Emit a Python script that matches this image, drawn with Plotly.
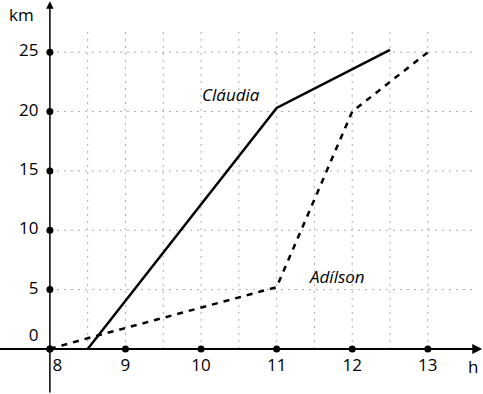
import plotly.graph_objects as go

# Data
claudia_h = [8.5, 11, 12.5]
claudia_km = [0, 20.3, 25.2]
adilson_h = [8, 8.5, 11, 12, 13]
adilson_km = [0, 0.9, 5.2, 20, 25]

x_ticks = [8, 9, 10, 11, 12, 13]
y_ticks = [0, 5, 10, 15, 20, 25]
x_grid = [8.5, 9, 9.5, 10, 10.5, 11, 11.5, 12, 12.5, 13]
y_grid = [5, 10, 15, 20, 25]

fig = go.Figure()

# dotted grid
gx, gy = [], []
for v in x_grid:
    gx += [v, v, None]
    gy += [0, 27, None]
for v in y_grid:
    gx += [8, 13.6, None]
    gy += [v, v, None]
fig.add_trace(go.Scatter(x=gx, y=gy, mode="lines",
                         line=dict(color="#aaa", width=1, dash="2px,5px"),
                         hoverinfo="skip", showlegend=False))

# axes with arrows
fig.add_annotation(x=13.72, y=0, ax=7.3, ay=0, xref="x", yref="y", axref="x", ayref="y",
                   showarrow=True, arrowhead=2, arrowsize=1, arrowwidth=2, arrowcolor="black", text="")
fig.add_annotation(x=8, y=29.3, ax=8, ay=-3.8, xref="x", yref="y", axref="x", ayref="y",
                   showarrow=True, arrowhead=2, arrowsize=1, arrowwidth=1.5, arrowcolor="black", text="")

# lines
fig.add_trace(go.Scatter(x=claudia_h, y=claudia_km, mode="lines",
                         line=dict(color="black", width=2.5), showlegend=False))
fig.add_trace(go.Scatter(x=adilson_h, y=adilson_km, mode="lines",
                         line=dict(color="black", width=2.5, dash="6px,6px"), showlegend=False))

# tick dots
fig.add_trace(go.Scatter(x=x_ticks, y=[0] * len(x_ticks), mode="markers",
                         marker=dict(color="black", size=7), showlegend=False))
fig.add_trace(go.Scatter(x=[8] * len(y_ticks), y=y_ticks, mode="markers",
                         marker=dict(color="black", size=7), showlegend=False))

font = dict(family="Open Sans", size=17, color="black")

# tick labels
fig.add_trace(go.Scatter(x=[t + 0.1 if t == 8 else t for t in x_ticks], y=[-1.5] * len(x_ticks),
                         mode="text", text=[str(t) for t in x_ticks], textfont=font,
                         showlegend=False))
fig.add_trace(go.Scatter(x=[7.85] * len(y_ticks), y=[t + 1.0 if t == 0 else t for t in y_ticks],
                         mode="text", text=[str(t) for t in y_ticks], textfont=font,
                         textposition="middle left", showlegend=False))

fig.add_annotation(x=7.62, y=28.2, text="km", showarrow=False, font=font, xref="x", yref="y")
fig.add_annotation(x=13.6, y=-1.5, text="h", showarrow=False, font=font, xref="x", yref="y")
fig.add_annotation(x=10.4, y=21.4, text="<i>Cláudia</i>", showarrow=False, font=font)
fig.add_annotation(x=11.8, y=6.1, text="<i>Adílson</i>", showarrow=False, font=font)

fig.update_layout(
    width=483, height=394,
    margin=dict(l=0, r=0, t=0, b=0),
    plot_bgcolor="white", paper_bgcolor="white",
    xaxis=dict(range=[7.34, 13.73], showgrid=False, zeroline=False, showticklabels=False),
    yaxis=dict(range=[-3.8, 29.4], showgrid=False, zeroline=False, showticklabels=False),
)

fig.write_html("out.html", config={"displayModeBar": False},
               post_script="document.body.style.margin='0';")
